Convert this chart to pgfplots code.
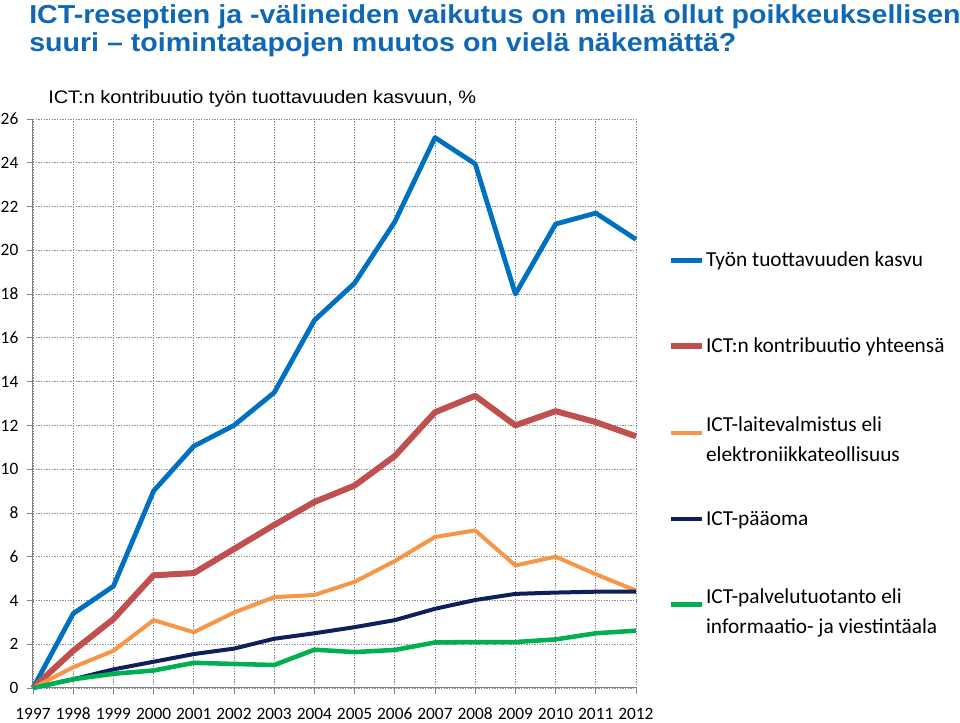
\documentclass[border=0pt]{standalone}
\usepackage{fontspec}
\setmainfont{Liberation Sans}
\newfontfamily\widesans{Liberation Sans}[FakeStretch=1.1]
\newfontfamily\calibri{Carlito}[Numbers=Lining]
\usepackage{pgfplots}
\pgfplotsset{compat=1.18}
\definecolor{titleblue}{HTML}{1068B4}
\definecolor{cblue}{HTML}{0070C0}
\definecolor{cred}{HTML}{C0504D}
\definecolor{corange}{HTML}{F79646}
\definecolor{cnavy}{HTML}{0F1F5C}
\definecolor{cgreen}{HTML}{00B050}
\pgfplotsset{
  legline/.style={legend image code/.code={\path (0pt,-11.25pt) (0pt,11.25pt);
      \draw[##1] (0pt,-2.25pt) -- (23.25pt,-2.25pt);}},
}
\begin{document}
\begin{tikzpicture}
\useasboundingbox (-24.75pt,-26.25pt) rectangle (695.25pt,516pt);
\begin{axis}[
  at={(0pt,0pt)}, anchor=south west,
  width=452.25pt, height=426.75pt, scale only axis,
  xmin=1997, xmax=2012, ymin=0, ymax=26,
  xtick={1997,...,2012}, ytick={0,2,...,26},
  enlargelimits=false, clip=false,
  axis x line*=bottom, axis y line*=left,
  axis line style={-, draw=black!50, line width=0.75pt},
  tick align=outside, major tick length=4.5pt,
  tick style={black!50, line width=0.6pt},
  grid=major,
  grid style={black!45, line width=0.6pt, dash pattern=on 1.1pt off 0.9pt},
  /pgf/number format/1000 sep={},
  /pgf/number format/assume math mode=true,
  ticklabel style={font=\calibri\fontsize{13}{15}\selectfont, text=black},
  xticklabel style={text height=9pt, text depth=0pt, yshift=-6.5pt},
  yticklabel style={xshift=-3pt},
  legend cell align=left,
  legend style={draw=none, fill=none, at={(1.0531,0.7874)}, anchor=north west,
    row sep=37.5pt, column sep=0.75pt, inner sep=0pt, outer sep=0pt,
    nodes={inner sep=0pt, outer sep=0pt},
    font=\calibri\fontsize{16}{22.5}\selectfont},
  line join=round,
]
\addplot[cblue, line width=3.6pt, legline] coordinates {
  (1997,0) (1998,3.4) (1999,4.65) (2000,9.0) (2001,11.05) (2002,12.0)
  (2003,13.5) (2004,16.8) (2005,18.5) (2006,21.3) (2007,25.15) (2008,23.95)
  (2009,18.0) (2010,21.2) (2011,21.7) (2012,20.5)
};
\addlegendentry{\begin{tabular}{@{}l@{}}Työn tuottavuuden kasvu\\ \end{tabular}}
\addplot[cred, line width=4.5pt, legline] coordinates {
  (1997,0) (1998,1.7) (1999,3.15) (2000,5.15) (2001,5.25) (2002,6.35)
  (2003,7.45) (2004,8.5) (2005,9.25) (2006,10.6) (2007,12.6) (2008,13.35)
  (2009,12.0) (2010,12.65) (2011,12.15) (2012,11.5)
};
\addlegendentry{\begin{tabular}{@{}l@{}}ICT:n kontribuutio yhteensä\\ \end{tabular}}
\addplot[corange, line width=3pt, legline] coordinates {
  (1997,0) (1998,0.95) (1999,1.7) (2000,3.1) (2001,2.55) (2002,3.45)
  (2003,4.15) (2004,4.25) (2005,4.85) (2006,5.8) (2007,6.9) (2008,7.2)
  (2009,5.6) (2010,6.0) (2011,5.2) (2012,4.45)
};
\addlegendentry{\begin{tabular}{@{}l@{}}ICT-laitevalmistus eli\\elektroniikkateollisuus\end{tabular}}
\addplot[cnavy, line width=3pt, legline] coordinates {
  (1997,0) (1998,0.4) (1999,0.85) (2000,1.2) (2001,1.55) (2002,1.8)
  (2003,2.25) (2004,2.5) (2005,2.78) (2006,3.1) (2007,3.62) (2008,4.02)
  (2009,4.3) (2010,4.36) (2011,4.4) (2012,4.4)
};
\addlegendentry{\begin{tabular}{@{}l@{}}ICT-pääoma\\ \end{tabular}}
\addplot[cgreen, line width=3.4pt, legline] coordinates {
  (1997,0) (1998,0.4) (1999,0.65) (2000,0.8) (2001,1.15) (2002,1.1)
  (2003,1.05) (2004,1.75) (2005,1.64) (2006,1.74) (2007,2.08) (2008,2.1)
  (2009,2.1) (2010,2.22) (2011,2.5) (2012,2.62)
};
\addlegendentry{\begin{tabular}{@{}l@{}}ICT-palvelutuotanto eli\\informaatio- ja viestintäala\end{tabular}}
\end{axis}
\node[anchor=base west, inner sep=0pt, text=titleblue, font=\widesans\bfseries\fontsize{19.5}{23}\selectfont]
  at (-3pt,498pt) {ICT-reseptien ja -välineiden vaikutus on meillä ollut poikkeuksellisen};
\node[anchor=base west, inner sep=0pt, text=titleblue, font=\widesans\bfseries\fontsize{19.5}{23}\selectfont]
  at (-3pt,477pt) {suuri – toimintatapojen muutos on vielä näkemättä?};
\node[anchor=base west, inner sep=0pt, font=\widesans\fontsize{13.6}{16}\selectfont]
  at (11.25pt,438pt) {ICT:n kontribuutio työn tuottavuuden kasvuun, \%};
\end{tikzpicture}
\end{document}
